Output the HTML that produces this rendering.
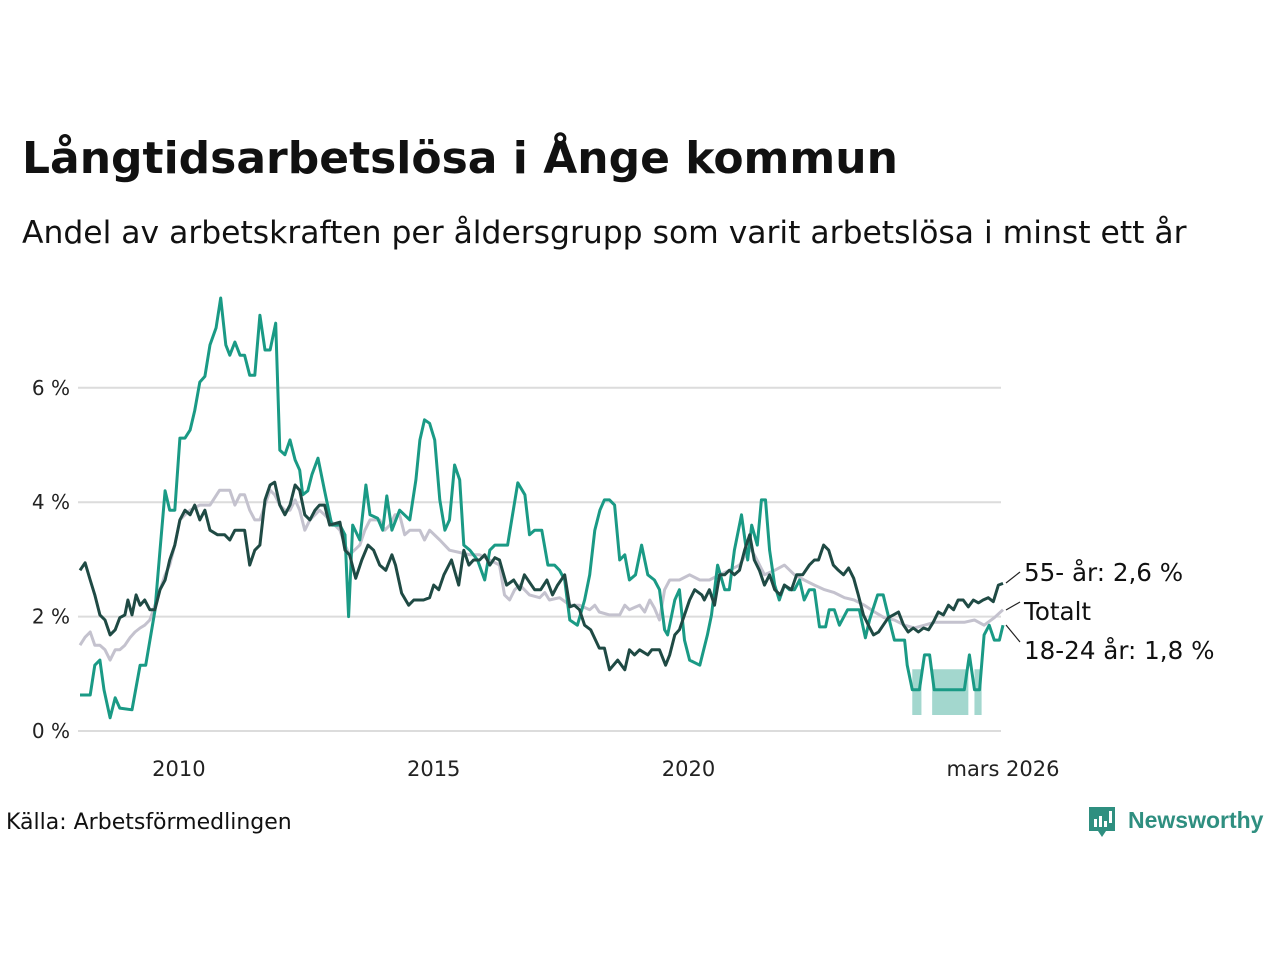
<!DOCTYPE html>
<html><head><meta charset="utf-8">
<style>
body{margin:0;background:#fff;font-family:"DejaVu Sans","Liberation Sans",sans-serif;}
#wrap{position:relative;width:1280px;height:960px;overflow:hidden;background:#fff;}
.t{position:absolute;white-space:nowrap;color:#111;}
</style></head><body>
<div id="wrap">
<div class="t" style="left:22px;top:133px;font-size:44px;font-weight:bold;">Långtidsarbetslösa i Ånge kommun</div>
<div class="t" style="left:22px;top:215px;font-size:31.4px;">Andel av arbetskraften per åldersgrupp som varit arbetslösa i minst ett år</div>
<div class="t" style="left:6px;top:810px;font-size:22px;">Källa: Arbetsförmedlingen</div>
<div style="position:absolute;left:1089px;top:805px;width:180px;height:36px;">
<svg width="180" height="36"><path d="M0 2h26v24h-9l-4 6-4-6H0z" fill="#2f8f80"/><rect x="5" y="14" width="3" height="8" fill="#fff"/><rect x="10" y="11" width="3" height="11" fill="#fff"/><rect x="15" y="16" width="3" height="6" fill="#fff"/><rect x="20" y="6" width="3" height="12" fill="#fff"/><text x="39" y="23" font-size="23" font-weight="bold" fill="#2f8f80" font-family="Liberation Sans, sans-serif">Newsworthy</text></svg></div>
<svg id="chart" width="1280" height="960" style="position:absolute;left:0;top:0"></svg>
</div>
<script>
const yTicks=[0,2,4,6];
const yTickLabels=["0 %","2 %","4 %","6 %"];
const xTicks=[2010,2015,2020,2026.17];
const xTickLabels=["2010","2015","2020","mars 2026"];
const youthDates=[2008.06,2008.26,2008.35,2008.45,2008.53,2008.65,2008.75,2008.84,2009.08,2009.24,2009.35,2009.53,2009.63,2009.73,2009.82,2009.92,2010.02,2010.12,2010.22,2010.31,2010.41,2010.51,2010.61,2010.73,2010.82,2010.92,2011.00,2011.10,2011.20,2011.29,2011.39,2011.49,2011.59,2011.69,2011.79,2011.90,2011.98,2012.08,2012.18,2012.28,2012.37,2012.43,2012.53,2012.61,2012.73,2012.86,2013.00,2013.16,2013.26,2013.33,2013.41,2013.55,2013.67,2013.75,2013.90,2014.00,2014.08,2014.18,2014.33,2014.53,2014.65,2014.73,2014.82,2014.92,2015.02,2015.12,2015.22,2015.31,2015.41,2015.51,2015.59,2015.71,2015.86,2016.00,2016.10,2016.20,2016.45,2016.53,2016.65,2016.79,2016.88,2016.98,2017.12,2017.24,2017.37,2017.47,2017.57,2017.67,2017.82,2017.96,2018.06,2018.16,2018.26,2018.35,2018.45,2018.55,2018.65,2018.75,2018.84,2018.96,2019.08,2019.20,2019.33,2019.43,2019.53,2019.59,2019.73,2019.82,2019.92,2020.02,2020.22,2020.37,2020.45,2020.57,2020.71,2020.80,2020.90,2021.04,2021.16,2021.24,2021.35,2021.43,2021.51,2021.59,2021.69,2021.78,2021.88,2021.98,2022.08,2022.18,2022.27,2022.37,2022.47,2022.57,2022.69,2022.76,2022.86,2022.96,2023.12,2023.35,2023.47,2023.55,2023.71,2023.82,2023.94,2024.04,2024.14,2024.24,2024.29,2024.39,2024.53,2024.63,2024.73,2024.82,2025.41,2025.51,2025.61,2025.71,2025.80,2025.90,2026.00,2026.10,2026.17];
const youthValues=[0.63,0.63,1.15,1.24,0.72,0.23,0.58,0.40,0.37,1.15,1.15,2.1,3.16,4.2,3.86,3.86,5.12,5.12,5.26,5.6,6.1,6.2,6.75,7.05,7.57,6.75,6.57,6.8,6.57,6.57,6.22,6.22,7.27,6.66,6.66,7.13,4.91,4.83,5.09,4.74,4.56,4.13,4.2,4.48,4.77,4.2,3.6,3.6,3.43,2.0,3.6,3.34,4.3,3.78,3.72,3.51,4.11,3.51,3.86,3.69,4.39,5.09,5.44,5.38,5.09,4.04,3.51,3.69,4.65,4.39,3.25,3.16,2.99,2.64,3.16,3.25,3.25,3.69,4.34,4.13,3.43,3.51,3.51,2.9,2.9,2.81,2.64,1.94,1.85,2.29,2.73,3.51,3.86,4.04,4.04,3.95,2.99,3.08,2.64,2.73,3.25,2.73,2.64,2.47,1.77,1.68,2.29,2.47,1.59,1.24,1.15,1.68,2.03,2.9,2.47,2.47,3.16,3.78,2.99,3.6,3.25,4.04,4.04,3.16,2.55,2.29,2.55,2.47,2.47,2.64,2.29,2.47,2.47,1.82,1.82,2.12,2.12,1.85,2.12,2.12,1.63,1.94,2.38,2.38,1.94,1.59,1.59,1.59,1.15,0.72,0.72,1.33,1.33,0.72,0.72,1.33,0.72,0.72,1.68,1.85,1.59,1.59,1.85];
const bandDates=[2024.39,2024.39,2024.57,2024.57,2024.78,2024.78,2025.49,2025.49,2025.61,2025.61,2025.75,2025.75];
const bandUpper=[0.72,1.08,1.08,0.72,0.72,1.08,1.08,0.72,0.72,1.08,1.08,0.72];
const bandLower=[0.72,0.28,0.28,0.72,0.72,0.28,0.28,0.72,0.72,0.28,0.28,0.72];
const seniorDates=[2008.06,2008.16,2008.26,2008.35,2008.45,2008.55,2008.65,2008.75,2008.84,2008.94,2009.00,2009.08,2009.16,2009.24,2009.33,2009.43,2009.53,2009.63,2009.73,2009.82,2009.92,2010.02,2010.12,2010.22,2010.31,2010.41,2010.51,2010.61,2010.76,2010.90,2011.00,2011.10,2011.20,2011.29,2011.39,2011.49,2011.59,2011.69,2011.79,2011.88,2011.98,2012.08,2012.18,2012.28,2012.37,2012.47,2012.57,2012.67,2012.76,2012.86,2012.96,2013.16,2013.26,2013.35,2013.47,2013.59,2013.71,2013.82,2013.94,2014.06,2014.18,2014.25,2014.37,2014.51,2014.61,2014.71,2014.80,2014.92,2015.00,2015.10,2015.20,2015.35,2015.49,2015.59,2015.69,2015.78,2015.90,2016.00,2016.10,2016.20,2016.29,2016.43,2016.57,2016.69,2016.78,2016.98,2017.10,2017.22,2017.33,2017.43,2017.57,2017.67,2017.76,2017.86,2017.96,2018.08,2018.25,2018.35,2018.45,2018.61,2018.75,2018.84,2018.94,2019.04,2019.20,2019.28,2019.43,2019.55,2019.63,2019.73,2019.82,2019.92,2020.02,2020.12,2020.26,2020.31,2020.41,2020.51,2020.61,2020.71,2020.80,2020.90,2021.00,2021.10,2021.20,2021.29,2021.39,2021.49,2021.59,2021.69,2021.80,2021.88,2022.02,2022.12,2022.24,2022.37,2022.47,2022.55,2022.65,2022.75,2022.84,2022.94,2023.04,2023.14,2023.24,2023.33,2023.43,2023.53,2023.63,2023.73,2023.82,2023.92,2024.02,2024.12,2024.22,2024.31,2024.41,2024.51,2024.61,2024.71,2024.80,2024.90,2025.00,2025.10,2025.20,2025.29,2025.39,2025.49,2025.59,2025.69,2025.78,2025.88,2025.98,2026.08,2026.17];
const seniorValues=[2.81,2.94,2.64,2.38,2.03,1.94,1.68,1.77,1.98,2.03,2.29,2.03,2.38,2.2,2.29,2.12,2.12,2.47,2.64,2.99,3.25,3.69,3.86,3.78,3.95,3.69,3.86,3.51,3.43,3.43,3.34,3.51,3.51,3.51,2.9,3.16,3.25,4.04,4.3,4.35,3.95,3.78,3.95,4.3,4.21,3.78,3.69,3.86,3.95,3.95,3.6,3.65,3.16,3.08,2.67,2.99,3.25,3.16,2.9,2.81,3.08,2.9,2.41,2.2,2.29,2.29,2.29,2.33,2.55,2.47,2.73,2.99,2.55,3.16,2.9,2.99,2.99,3.08,2.9,3.03,2.99,2.55,2.64,2.47,2.73,2.47,2.47,2.64,2.38,2.55,2.73,2.17,2.2,2.12,1.85,1.77,1.45,1.45,1.07,1.24,1.07,1.42,1.33,1.42,1.33,1.42,1.42,1.15,1.33,1.68,1.77,2.03,2.29,2.47,2.38,2.29,2.47,2.2,2.73,2.73,2.81,2.73,2.81,3.16,3.43,2.99,2.81,2.55,2.73,2.47,2.38,2.55,2.47,2.73,2.73,2.9,2.99,2.99,3.25,3.16,2.9,2.81,2.73,2.85,2.67,2.38,2.03,1.85,1.68,1.73,1.85,1.98,2.03,2.08,1.85,1.73,1.8,1.73,1.8,1.77,1.9,2.08,2.03,2.2,2.12,2.29,2.29,2.17,2.29,2.24,2.29,2.33,2.26,2.55,2.58];
const totalDates=[2008.06,2008.16,2008.26,2008.35,2008.45,2008.55,2008.65,2008.75,2008.84,2008.94,2009.04,2009.14,2009.24,2009.33,2009.43,2009.53,2009.63,2009.73,2009.82,2009.92,2010.02,2010.12,2010.22,2010.41,2010.61,2010.80,2011.00,2011.10,2011.20,2011.29,2011.39,2011.49,2011.59,2011.69,2011.79,2011.88,2011.98,2012.08,2012.18,2012.28,2012.37,2012.47,2012.57,2012.76,2012.86,2012.96,2013.16,2013.26,2013.35,2013.55,2013.65,2013.75,2013.94,2014.04,2014.14,2014.24,2014.33,2014.43,2014.53,2014.73,2014.82,2014.92,2015.12,2015.31,2015.51,2015.71,2015.90,2016.10,2016.29,2016.39,2016.49,2016.59,2016.69,2016.78,2016.88,2017.08,2017.18,2017.27,2017.47,2017.67,2017.86,2018.06,2018.16,2018.25,2018.45,2018.65,2018.75,2018.84,2019.04,2019.14,2019.24,2019.33,2019.43,2019.53,2019.63,2019.82,2020.02,2020.22,2020.41,2020.61,2020.80,2021.00,2021.20,2021.29,2021.49,2021.69,2021.88,2022.08,2022.27,2022.47,2022.67,2022.86,2023.06,2023.25,2023.45,2023.65,2023.84,2024.04,2024.24,2024.43,2024.63,2024.82,2025.02,2025.22,2025.41,2025.61,2025.80,2026.00,2026.17];
const totalValues=[1.5,1.64,1.73,1.5,1.5,1.42,1.24,1.42,1.42,1.5,1.63,1.73,1.8,1.85,1.94,2.2,2.47,2.73,2.9,3.25,3.69,3.78,3.86,3.95,3.95,4.21,4.21,3.95,4.13,4.13,3.86,3.69,3.69,3.95,4.21,4.13,3.95,3.86,3.86,4.04,3.86,3.51,3.69,3.86,3.78,3.69,3.51,3.25,3.08,3.25,3.51,3.69,3.69,3.51,3.6,3.78,3.78,3.43,3.51,3.51,3.34,3.51,3.34,3.16,3.12,3.08,3.08,2.99,2.9,2.38,2.29,2.47,2.55,2.47,2.38,2.33,2.42,2.29,2.33,2.2,2.2,2.12,2.2,2.08,2.03,2.03,2.2,2.12,2.2,2.08,2.29,2.15,1.94,2.47,2.64,2.64,2.73,2.64,2.64,2.73,2.81,2.9,3.2,3.08,2.73,2.81,2.9,2.73,2.64,2.55,2.47,2.42,2.33,2.29,2.2,2.08,1.98,1.94,1.85,1.8,1.85,1.9,1.9,1.9,1.9,1.94,1.85,1.98,2.12];

const NS="http://www.w3.org/2000/svg";
const svg=document.getElementById('chart');
const X0=80,X1=1003,D0=2008.06,D1=2026.17,Y0=731,PX=57.2;
const FONT='DejaVu Sans, Liberation Sans, sans-serif';
function xs(d){return X0+(d-D0)/(D1-D0)*(X1-X0);}
function ys(v){return Y0-v*PX;}
function mk(tag,attrs){const e=document.createElementNS(NS,tag);for(const k in attrs)e.setAttribute(k,attrs[k]);svg.appendChild(e);return e;}
yTicks.forEach((v,i)=>{
  const g=mk('line',{x1:78,x2:1001,y1:ys(v),y2:ys(v),stroke:'#dcdcdc','stroke-width':2});
  
  
  const t=mk('text',{x:70,y:ys(v)+7,'text-anchor':'end','font-size':20,fill:'#222','font-family':FONT});
  t.textContent=yTickLabels[i];
  
  
});
xTicks.forEach((d,i)=>{
  const t=mk('text',{x:xs(d),y:776,'text-anchor':'middle','font-size':21,fill:'#222','font-family':FONT});
  t.textContent=xTickLabels[i];
  
  
});
let bp='';
bandDates.forEach((d,i)=>{bp+=(i?'L':'M')+xs(d)+' '+ys(bandUpper[i]);});
for(let i=bandDates.length-1;i>=0;i--)bp+='L'+xs(bandDates[i])+' '+ys(bandLower[i]);
const band=mk('path',{d:bp+'Z',fill:'#1a9a85','fill-opacity':0.4,stroke:'none'});


function line(ds,vs,col,name){
  const p=ds.map((d,i)=>(i?'L':'M')+xs(d).toFixed(1)+' '+ys(vs[i]).toFixed(1)).join('');
  const e=mk('path',{d:p,fill:'none',stroke:col,'stroke-width':3,'stroke-linejoin':'round'});
  
  
}
line(totalDates,totalValues,'#c4c2ce','total-line');
line(youthDates,youthValues,'#1a9a85','youth-line');
line(seniorDates,seniorValues,'#1f4a44','senior-line');
const labs=[["55- år: 2,6 %",583,572,580],["Totalt",610,611,610],["18-24 år: 1,8 %",625,650,650]];
labs.forEach((l,i)=>{
  const c=mk('line',{x1:1006,y1:l[1],x2:1020,y2:l[3]-8,stroke:'#222','stroke-width':1.2});
  
  
  const t=mk('text',{x:1024,y:l[2]+9,'font-size':24.6,fill:'#111','font-family':FONT});
  t.textContent=l[0];
  
  
});
</script>
</body></html>
